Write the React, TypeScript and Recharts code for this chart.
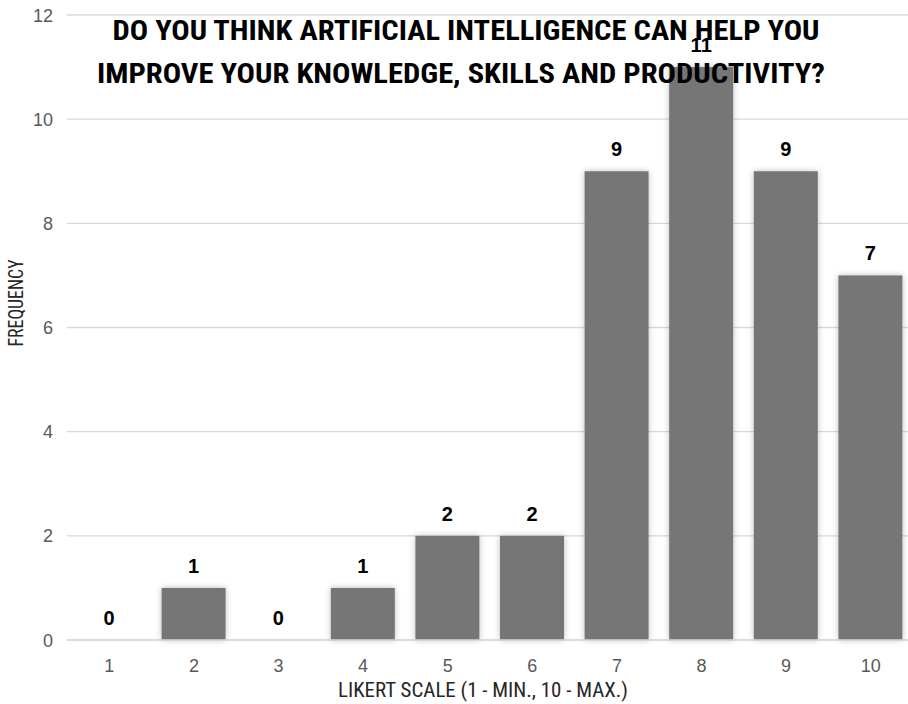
import React from 'react';
import { BarChart, Bar, XAxis, YAxis, CartesianGrid, LabelList } from 'recharts';

const categories = ['1', '2', '3', '4', '5', '6', '7', '8', '9', '10'];
const frequency = [0, 1, 0, 1, 2, 2, 9, 11, 9, 7];
const yTicks = [0, 2, 4, 6, 8, 10, 12];
const titleLines = [
  'DO YOU THINK ARTIFICIAL INTELLIGENCE CAN HELP YOU',
  'IMPROVE YOUR KNOWLEDGE, SKILLS AND PRODUCTIVITY?',
];
const yTitle = 'FREQUENCY';
const xTitle = 'LIKERT SCALE (1 - MIN., 10 - MAX.)';

const data = categories.map((c, i) => ({ cat: c, value: frequency[i] }));

const narrow = '"Liberation Sans Narrow", "Roboto Condensed", Roboto, "Liberation Sans", sans-serif';
const sans = '"Liberation Sans", Arial, sans-serif';

const BarLabel = (props: any) => {
  const { x, y, width, value } = props;
  return (
    <text x={x + width / 2} y={y - 15} textAnchor="middle" fontFamily={sans} fontWeight="bold" fontSize={20} fill="#000">
      {value}
    </text>
  );
};

const ShadowBar = (props: any) => {
  const { x, y, width, height } = props;
  if (!height || height <= 0) return <g />;
  return <rect x={x} y={y} width={width} height={height} fill="#767676" filter="url(#barShadow)" />;
};

const XTick = (props: any) => {
  const { x, payload } = props;
  return (
    <text x={x} y={672} textAnchor="middle" fontFamily={sans} fontSize={18} fill="#595959">
      {payload.value}
    </text>
  );
};

const YTick = (props: any) => {
  const { y, payload } = props;
  return (
    <text x={53} y={y + 6.5} textAnchor="end" fontFamily={sans} fontSize={18} fill="#595959">
      {payload.value}
    </text>
  );
};

export default function App() {
  return (
    <div style={{ position: 'absolute', left: 0, top: 0, width: 908, height: 704, overflow: 'hidden', background: '#fff' }}>
      <BarChart
        width={920}
        height={704}
        data={data}
        margin={{ top: 15, right: 7, bottom: 0, left: 0 }}
        barSize={64}
      >
        <defs>
          <filter id="barShadow" x="-20%" y="-20%" width="140%" height="140%">
            <feDropShadow dx="0" dy="0" stdDeviation="3" floodColor="#000" floodOpacity="0.25" />
          </filter>
        </defs>
        <CartesianGrid vertical={false} stroke="#d9d9d9" strokeWidth={1.3} />
        <XAxis
          dataKey="cat"
          height={64}
          axisLine={{ stroke: '#d9d9d9', strokeWidth: 1.3 }}
          tickLine={false}
          tick={<XTick />}
          label={{
            content: () => (
              <text x={483} y={697} textAnchor="middle" fontFamily={narrow} fontSize={20} fill="#262626" textLength={290} lengthAdjust="spacingAndGlyphs">
                {xTitle}
              </text>
            ),
          }}
        />
        <YAxis
          width={67}
          domain={[0, 12]}
          ticks={yTicks}
          axisLine={false}
          tickLine={false}
          tick={<YTick />}
          label={{
            content: () => (
              <text x={23} y={303} textAnchor="middle" transform="rotate(-90 23 303)" fontFamily={narrow} fontSize={20} fill="#262626" textLength={87} lengthAdjust="spacingAndGlyphs">
                {yTitle}
              </text>
            ),
          }}
        />
        <Bar dataKey="value" fill="#767676" isAnimationActive={false} shape={<ShadowBar />}>
          <LabelList dataKey="value" content={<BarLabel />} />
        </Bar>
      </BarChart>
      <svg width={908} height={704} style={{ position: 'absolute', left: 0, top: 0, pointerEvents: 'none' }}>
        <text x={466} y={40} textAnchor="middle" fontFamily={narrow} fontWeight="bold" fontSize={27} fill="#000" textLength={707} lengthAdjust="spacingAndGlyphs">
          {titleLines[0]}
        </text>
        <text x={461} y={83} textAnchor="middle" fontFamily={narrow} fontWeight="bold" fontSize={27} fill="#000" textLength={728} lengthAdjust="spacingAndGlyphs">
          {titleLines[1]}
        </text>
      </svg>
    </div>
  );
}
